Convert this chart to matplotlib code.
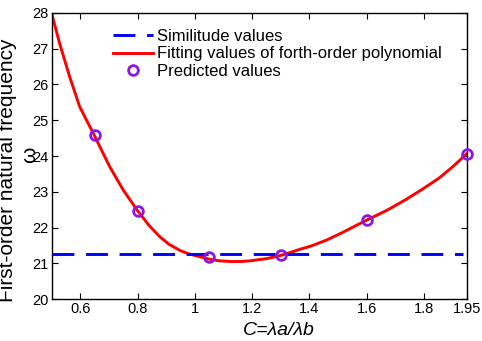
import numpy as np
import matplotlib
matplotlib.use('Agg')
import matplotlib.pyplot as plt

plt.rcParams['font.family'] = ['Liberation Sans', 'DejaVu Sans']

# predicted values (circles)
c_pred = [0.65, 0.80, 1.05, 1.30, 1.60, 1.95]
w_pred = [24.58, 22.46, 21.17, 21.22, 22.22, 24.07]

# fitted forth-order polynomial
c_fit = [0.50, 0.528, 0.563, 0.598, 0.649, 0.703, 0.75, 0.801, 0.84, 0.878,
         0.91, 0.948, 0.98, 1.01, 1.048, 1.085, 1.124, 1.16, 1.194, 1.25,
         1.30, 1.34, 1.37, 1.405, 1.46, 1.51, 1.603, 1.67, 1.734, 1.79,
         1.852, 1.90, 1.95]
w_fit = [28.0, 27.15, 26.22, 25.38, 24.58, 23.70, 23.05, 22.46, 22.06, 21.74,
         21.53, 21.36, 21.26, 21.20, 21.12, 21.07, 21.05, 21.05, 21.07, 21.13,
         21.22, 21.32, 21.40, 21.48, 21.65, 21.84, 22.22, 22.48, 22.77, 23.05,
         23.38, 23.70, 24.07]

# similitude value
w_sim = 21.26

xticks = [0.6, 0.8, 1, 1.2, 1.4, 1.6, 1.8, 1.95]
xticklabels = ['0.6', '0.8', '1', '1.2', '1.4', '1.6', '1.8', '1.95']
yticks = [20, 21, 22, 23, 24, 25, 26, 27, 28]

fig = plt.figure(figsize=(4.82, 3.41), dpi=100)
ax = fig.add_axes([0.107, 0.123, 0.862, 0.839])

ax.plot([0.5, 1.935], [w_sim, w_sim], color='#0000ff', lw=2.1,
        dashes=(7.5, 4.0), label='Similitude values', zorder=3)
ax.plot(c_fit, w_fit, color='#ff0000', lw=2.1,
        label='Fitting values of forth-order polynomial', zorder=2)
ax.plot(c_pred, w_pred, 'o', mfc='none', mec='#8a16e8', ms=7, mew=2,
        label='Predicted values', zorder=4, clip_on=False)

ax.set_xlim(0.5, 1.95)
ax.set_ylim(20, 28)
ax.set_xticks(xticks)
ax.set_xticklabels(xticklabels)
ax.set_yticks(yticks)
ax.tick_params(direction='in', top=True, right=True, length=4, width=0.8,
               labelsize=10.5, pad=2)
for s in ax.spines.values():
    s.set_linewidth(1.0)

leg = ax.legend(loc='upper left', bbox_to_anchor=(0.12, 0.985), frameon=False,
                fontsize=12, handlelength=2.4, handletextpad=0.25,
                labelspacing=0.15, borderpad=0.2)

fig.text(279 / 482, 2 / 341, 'C=λa/λb', style='italic', fontsize=14,
         ha='center', va='bottom')
fig.text(17 / 482, 0.5, 'First-order natural frequency', rotation=90,
         fontsize=15, ha='right', va='center')
fig.text(30 / 482, (341 - 155) / 341, 'ω', rotation=90, fontsize=15,
         ha='center', va='center')

fig.savefig('out.png', dpi=100)
